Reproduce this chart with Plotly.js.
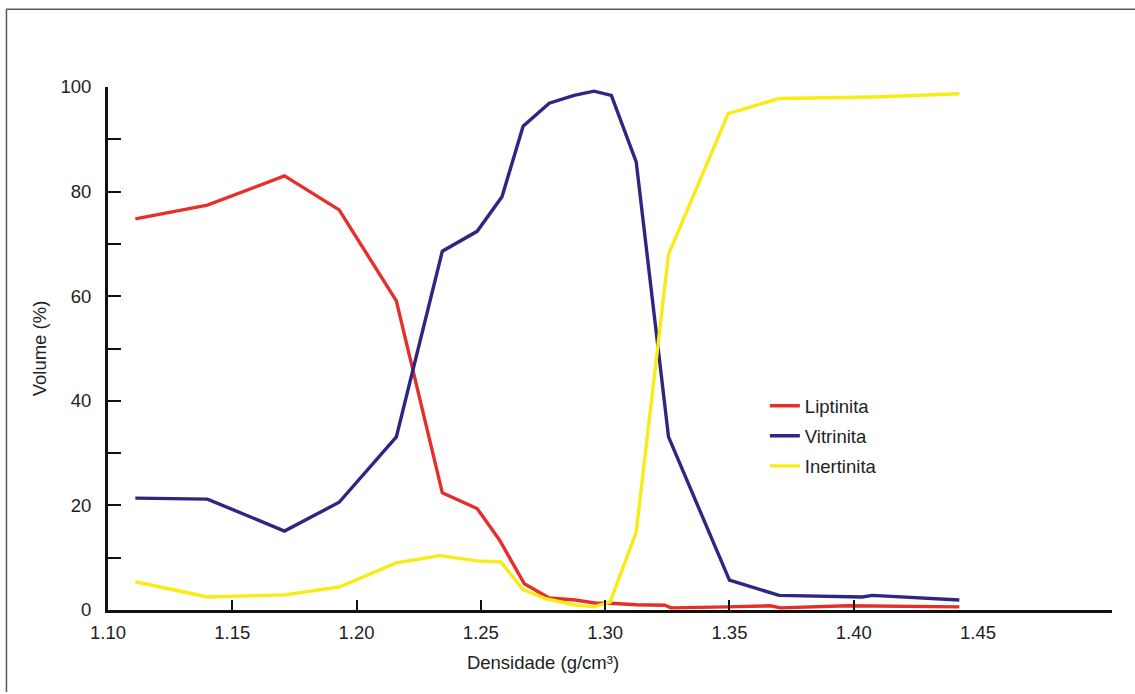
<!DOCTYPE html>
<html>
<head>
<meta charset="utf-8">
<script src="https://cdn.plot.ly/plotly-3.0.1.min.js"></script>
<style>
html,body{margin:0;padding:0;background:#fff;}
#chart{width:1135px;height:694px;}
</style>
</head>
<body>
<div id="chart"></div>
<script>
// Data
const liptX = [1.111, 1.140, 1.171, 1.193, 1.216, 1.2345, 1.2485, 1.2575, 1.2675, 1.2775, 1.288, 1.2965, 1.302, 1.3125, 1.324, 1.3265, 1.349, 1.3665, 1.3705, 1.3975, 1.4425];
const liptY = [74.8, 77.4, 83.0, 76.5, 59.1, 22.4, 19.4, 13.4, 5.0, 2.3, 1.9, 1.3, 1.3, 1.0, 0.9, 0.4, 0.6, 0.8, 0.4, 0.8, 0.6];

const vitrX = [1.111, 1.140, 1.171, 1.193, 1.216, 1.2345, 1.2485, 1.2585, 1.267, 1.2775, 1.2875, 1.2955, 1.3025, 1.3125, 1.3255, 1.350, 1.370, 1.4035, 1.4075, 1.4425];
const vitrY = [21.4, 21.2, 15.1, 20.6, 33.1, 68.6, 72.4, 79.0, 92.5, 96.9, 98.4, 99.2, 98.4, 85.7, 33.1, 5.7, 2.8, 2.5, 2.8, 1.9];

const inerX = [1.111, 1.140, 1.171, 1.193, 1.216, 1.2335, 1.2485, 1.258, 1.267, 1.2765, 1.2875, 1.2955, 1.302, 1.3125, 1.3255, 1.3495, 1.370, 1.409, 1.4425];
const inerY = [5.4, 2.5, 2.9, 4.4, 9.0, 10.4, 9.4, 9.2, 3.9, 2.1, 1.0, 0.6, 1.5, 14.9, 68.0, 94.9, 97.8, 98.1, 98.7];

const seriesNames = ['Liptinita', 'Vitrinita', 'Inertinita'];
const seriesColors = ['#E5302A', '#2E2680', '#FAEB14'];

const yTickVals = [0, 10, 20, 30, 40, 50, 60, 70, 80, 90, 100];
const yTickText = ['0', '', '20', '', '40', '', '60', '', '80', '', '100'];
const xTickVals = [1.10, 1.15, 1.20, 1.25, 1.30, 1.35, 1.40, 1.45];
const xTickText = ['1.10', '1.15', '1.20', '1.25', '1.30', '1.35', '1.40', '1.45'];

const xs = [liptX, vitrX, inerX];
const ys = [liptY, vitrY, inerY];

const traces = seriesNames.map((n, i) => ({
  type: 'scatter',
  mode: 'lines',
  name: n,
  legendgroup: n,
  x: xs[i],
  y: ys[i],
  line: {color: seriesColors[i], width: 3.4},
  cliponaxis: false,
  hoverinfo: 'x+y+name'
}));

const FAM = '"Liberation Sans", Arial, sans-serif';
const FS = 18.5;
const font = {family: FAM, size: FS, color: '#222'};

const layout = {
  width: 1135,
  height: 694,
  paper_bgcolor: '#ffffff',
  plot_bgcolor: 'rgba(0,0,0,0)',
  font: font,
  margin: {l: 108, r: 157, t: 87, b: 84, pad: 0},
  showlegend: true,
  legend: {
    x: 0.755, xanchor: 'left',
    y: 0.426, yanchor: 'top',
    bgcolor: 'rgba(0,0,0,0)',
    font: {family: FAM, size: FS, color: '#222'},
    tracegroupgap: 3,
    traceorder: 'grouped'
  },
  xaxis: {
    range: [1.10, 1.45],
    tickvals: xTickVals,
    ticktext: xTickText,
    ticks: 'inside',
    ticklen: 10,
    tickwidth: 2,
    tickcolor: '#111',
    showline: true,
    linecolor: '#111',
    linewidth: 3,
    showgrid: false,
    zeroline: false,
    ticklabelstandoff: 4,
    tickfont: {family: FAM, size: FS, color: '#222'},
    title: {text: 'Densidade (g/cm³)', font: {family: FAM, size: FS, color: '#222'}, standoff: 14},
    automargin: false
  },
  yaxis: {
    range: [0, 100],
    tickvals: yTickVals,
    ticktext: yTickText,
    ticks: 'inside',
    ticklen: 13,
    tickwidth: 2,
    tickcolor: '#111',
    showline: true,
    linecolor: '#111',
    linewidth: 3,
    showgrid: false,
    zeroline: false,
    ticklabelstandoff: 10,
    tickfont: {family: FAM, size: FS, color: '#222'},
    title: {text: 'Volume (%)', font: {family: FAM, size: FS, color: '#222'}, standoff: 9},
    automargin: false
  },
  shapes: [
    // extension of the x axis line beyond 1.45
    {type: 'line', xref: 'paper', yref: 'paper', x0: 0.99, x1: 1.154, y0: -0.0029, y1: -0.0029,
     line: {color: '#111', width: 3}},
    // picture frame (top and left)
    {type: 'line', xref: 'paper', yref: 'paper', x0: -0.117, x1: 1.185, y0: 1.1485, y1: 1.1485,
     line: {color: '#555', width: 1.5}},
    {type: 'line', xref: 'paper', yref: 'paper', x0: -0.1167, x1: -0.1167, y0: -0.157, y1: 1.1485,
     line: {color: '#555', width: 1.5}}
  ]
};

Plotly.newPlot('chart', traces, layout, {displayModeBar: false, staticPlot: true});
</script>
</body>
</html>
